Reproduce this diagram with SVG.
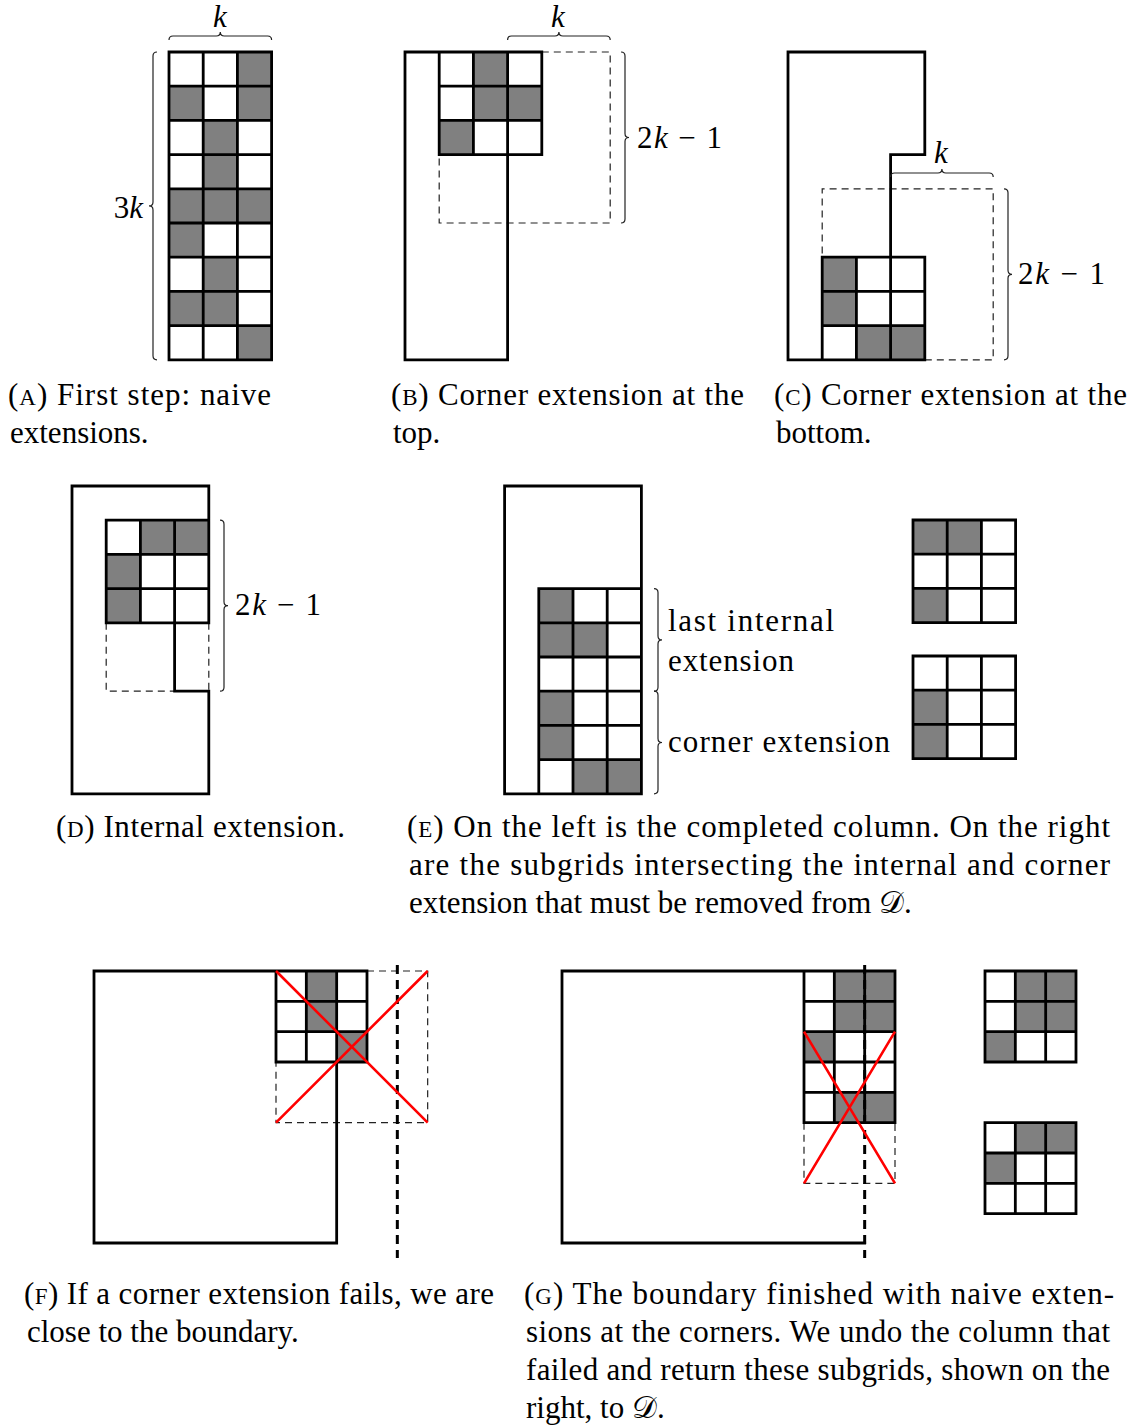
<svg xmlns="http://www.w3.org/2000/svg" xmlns:xlink="http://www.w3.org/1999/xlink" width="1135" height="1425" viewBox="0 0 1135 1425">
<style>
.ln{fill:none;stroke:#000;stroke-width:2.8;stroke-linecap:square;stroke-linejoin:miter}
.gr{fill:#808080;stroke:none}
.ds{fill:none;stroke:#222;stroke-width:1.2;stroke-dasharray:7,5}
.td{fill:none;stroke:#000;stroke-width:3;stroke-dasharray:9,6}
.rx{fill:none;stroke:#f00;stroke-width:2.6}
.br{fill:none;stroke:#222;stroke-width:1.2}
.cap{font-family:"Liberation Serif","DejaVu Serif",serif;font-size:31px;fill:#000}
.sc{font-size:23px}
.m{font-family:"Liberation Serif","DejaVu Serif",serif;font-size:31px;fill:#000}
.it{font-style:italic}
</style>
<defs>
<rect id="g" width="34.2" height="34.2" class="gr"/>
<rect id="s" width="30.33" height="30.33" class="gr"/>
</defs>
<rect width="1135" height="1425" fill="#fff"/>

<g id="panel-a">
<use xlink:href="#g" x="237.4" y="52"/>
<use xlink:href="#g" x="169" y="86.2"/><use xlink:href="#g" x="237.4" y="86.2"/>
<use xlink:href="#g" x="203.2" y="120.4"/>
<use xlink:href="#g" x="203.2" y="154.6"/>
<use xlink:href="#g" x="169" y="188.8"/><use xlink:href="#g" x="203.2" y="188.8"/><use xlink:href="#g" x="237.4" y="188.8"/>
<use xlink:href="#g" x="169" y="223"/>
<use xlink:href="#g" x="203.2" y="257.2"/>
<use xlink:href="#g" x="169" y="291.4"/><use xlink:href="#g" x="203.2" y="291.4"/>
<use xlink:href="#g" x="237.4" y="325.6"/>
<path class="ln" d="M169,52H271.6V359.8H169Z M203.2,52V359.8 M237.4,52V359.8 M169,86.2H271.6 M169,120.4H271.6 M169,154.6H271.6 M169,188.8H271.6 M169,223H271.6 M169,257.2H271.6 M169,291.4H271.6 M169,325.6H271.6"/>
<path class="br" d="M169,40Q169,36 173,36H216.3Q220.3,36 220.3,32Q220.3,36 224.3,36H267.6Q271.6,36 271.6,40"/>
<path class="br" d="M157,52Q153,52 153,56V201.9Q153,205.9 149,205.9Q153,205.9 153,209.9V355.8Q153,359.8 157,359.8"/>
<text class="m it" x="220" y="27" text-anchor="middle">k</text>
<text class="m" x="143" y="218" text-anchor="end">3<tspan class="it">k</tspan></text>
</g>

<g id="panel-b">
<use xlink:href="#g" x="473.4" y="52"/>
<use xlink:href="#g" x="473.4" y="86.2"/><use xlink:href="#g" x="507.6" y="86.2"/>
<use xlink:href="#g" x="439.2" y="120.4"/>
<path class="ds" d="M541.8,52H610.2V223H439.2V154.6"/>
<path class="ln" d="M405,52H507.6V359.8H405Z M439.2,52H541.8V154.6H439.2Z M473.4,52V154.6 M507.6,52V154.6 M439.2,86.2H541.8 M439.2,120.4H541.8"/>
<path class="br" d="M507.6,40Q507.6,36 511.6,36H554.9Q558.9,36 558.9,32Q558.9,36 562.9,36H606.2Q610.2,36 610.2,40"/>
<path class="br" d="M621,52Q625,52 625,56V133.5Q625,137.5 629,137.5Q625,137.5 625,141.5V219Q625,223 621,223"/>
<text class="m it" x="558" y="27" text-anchor="middle">k</text>
<text class="m" x="637" y="148" textLength="85">2<tspan class="it">k</tspan> − 1</text>
</g>

<g id="panel-c">
<use xlink:href="#g" x="822.2" y="257.2"/>
<use xlink:href="#g" x="822.2" y="291.4"/>
<use xlink:href="#g" x="856.4" y="325.6"/><use xlink:href="#g" x="890.6" y="325.6"/>
<path class="ds" d="M924.8,359.8H993.2V188.8H822.2V257.2"/>
<path class="ln" d="M890.6,257.2V154.6H924.8V52H788V359.8H924.8 M822.2,257.2H924.8V359.8 M822.2,257.2V359.8 M856.4,257.2V359.8 M890.6,257.2V359.8 M822.2,291.4H924.8 M822.2,325.6H924.8"/>
<path class="br" d="M890.6,177Q890.6,173 894.6,173H937.9Q941.9,173 941.9,169Q941.9,173 945.9,173H989.2Q993.2,173 993.2,177"/>
<path class="br" d="M1004,188.8Q1008,188.8 1008,192.8V270.3Q1008,274.3 1012,274.3Q1008,274.3 1008,278.3V355.8Q1008,359.8 1004,359.8"/>
<text class="m it" x="941" y="163" text-anchor="middle">k</text>
<text class="m" x="1018" y="284" textLength="87">2<tspan class="it">k</tspan> − 1</text>
</g>

<g id="panel-d">
<use xlink:href="#g" x="140.4" y="520.2"/><use xlink:href="#g" x="174.6" y="520.2"/>
<use xlink:href="#g" x="106.2" y="554.4"/>
<use xlink:href="#g" x="106.2" y="588.6"/>
<path class="ds" d="M106.2,622.8V691.2H174.6 M208.8,622.8V691.2"/>
<path class="ln" d="M208.8,520.2V486H72V793.8H208.8V691.2H174.6V622.8 M106.2,520.2H208.8V622.8H106.2Z M140.4,520.2V622.8 M174.6,520.2V622.8 M106.2,554.4H208.8 M106.2,588.6H208.8"/>
<path class="br" d="M220,520.2Q224,520.2 224,524.2V601.7Q224,605.7 228,605.7Q224,605.7 224,609.7V687.2Q224,691.2 220,691.2"/>
<text class="m" x="235" y="615" textLength="86">2<tspan class="it">k</tspan> − 1</text>
</g>

<g id="panel-e">
<use xlink:href="#g" x="538.8" y="588.6"/>
<use xlink:href="#g" x="538.8" y="622.8"/><use xlink:href="#g" x="573" y="622.8"/>
<use xlink:href="#g" x="538.8" y="691.2"/>
<use xlink:href="#g" x="538.8" y="725.4"/>
<use xlink:href="#g" x="573" y="759.6"/><use xlink:href="#g" x="607.2" y="759.6"/>
<path class="ln" d="M504.6,486H641.4V793.8H504.6Z M538.8,588.6H641.4 M538.8,588.6V793.8 M573,588.6V793.8 M607.2,588.6V793.8 M538.8,622.8H641.4 M538.8,657H641.4 M538.8,691.2H641.4 M538.8,725.4H641.4 M538.8,759.6H641.4"/>
<path class="br" d="M654,588.6Q658,588.6 658,592.6V635.9Q658,639.9 662,639.9Q658,639.9 658,643.9V687.2Q658,691.2 654,691.2"/>
<path class="br" d="M654,691.2Q658,691.2 658,695.2V738.5Q658,742.5 662,742.5Q658,742.5 658,746.5V789.8Q658,793.8 654,793.8"/>
<text class="cap" x="668" y="631" textLength="166">last internal</text>
<text class="cap" x="668" y="671" textLength="126">extension</text>
<text class="cap" x="668" y="752" textLength="222">corner extension</text>
</g>

<g id="subgrid-e1">
<use xlink:href="#g" x="913" y="520"/><use xlink:href="#g" x="947.2" y="520"/>
<use xlink:href="#g" x="913" y="588.4"/>
<path class="ln" d="M913,520H1015.6V622.6H913Z M947.2,520V622.6 M981.4,520V622.6 M913,554.2H1015.6 M913,588.4H1015.6"/>
</g>
<g id="subgrid-e2">
<use xlink:href="#g" x="913" y="690.2"/>
<use xlink:href="#g" x="913" y="724.4"/>
<path class="ln" d="M913,656H1015.6V758.6H913Z M947.2,656V758.6 M981.4,656V758.6 M913,690.2H1015.6 M913,724.4H1015.6"/>
</g>

<g id="panel-f">
<use xlink:href="#s" x="306.33" y="971"/>
<use xlink:href="#s" x="306.33" y="1001.33"/>
<use xlink:href="#s" x="336.67" y="1031.67"/>
<path class="ds" d="M367,971H427.67V1122.67H276V1062"/>
<path class="ln" d="M276,971H94V1243H336.67V1062 M276,971H367V1062H276Z M306.33,971V1062 M336.67,971V1062 M276,1001.33H367 M276,1031.67H367"/>
<path class="td" d="M397.33,965V1258"/>
<path class="rx" d="M276,971L427.67,1122.67M276,1122.67L427.67,971"/>
</g>

<g id="panel-g">
<use xlink:href="#s" x="834.33" y="971"/><use xlink:href="#s" x="864.67" y="971"/>
<use xlink:href="#s" x="834.33" y="1001.33"/><use xlink:href="#s" x="864.67" y="1001.33"/>
<use xlink:href="#s" x="804" y="1031.67"/>
<use xlink:href="#s" x="834.33" y="1092.33"/><use xlink:href="#s" x="864.67" y="1092.33"/>
<path class="ds" d="M804,1122.67V1183.33H895V1122.67"/>
<path class="ln" d="M804,971H562V1243H864.67 M804,971H895V1122.67H804Z M834.33,971V1122.67 M864.67,971V1122.67 M804,1001.33H895 M804,1031.67H895 M804,1062H895 M804,1092.33H895"/>
<path class="td" d="M864.67,965V1258"/>
<path class="rx" d="M804,1031.67L895,1183.33M895,1031.67L804,1183.33"/>
</g>

<g id="subgrid-g1">
<use xlink:href="#s" x="1015.33" y="971"/><use xlink:href="#s" x="1045.67" y="971"/>
<use xlink:href="#s" x="1015.33" y="1001.33"/><use xlink:href="#s" x="1045.67" y="1001.33"/>
<use xlink:href="#s" x="985" y="1031.67"/>
<path class="ln" d="M985,971H1076V1062H985Z M1015.33,971V1062 M1045.67,971V1062 M985,1001.33H1076 M985,1031.67H1076"/>
</g>
<g id="subgrid-g2">
<use xlink:href="#s" x="1015.33" y="1122.67"/><use xlink:href="#s" x="1045.67" y="1122.67"/>
<use xlink:href="#s" x="985" y="1153"/>
<path class="ln" d="M985,1122.67H1076V1213.67H985Z M1015.33,1122.67V1213.67 M1045.67,1122.67V1213.67 M985,1153H1076 M985,1183.33H1076"/>
</g>

<g id="captions">
<text class="cap" x="8" y="405" textLength="263">(<tspan class="sc">A</tspan>) First step: naive</text>
<text class="cap" x="10" y="443">extensions.</text>
<text class="cap" x="391" y="405" textLength="353">(<tspan class="sc">B</tspan>) Corner extension at the</text>
<text class="cap" x="393" y="443">top.</text>
<text class="cap" x="774" y="405" textLength="353">(<tspan class="sc">C</tspan>) Corner extension at the</text>
<text class="cap" x="776" y="443">bottom.</text>
<text class="cap" x="56" y="837" textLength="289">(<tspan class="sc">D</tspan>) Internal extension.</text>
<text class="cap" x="407" y="837" textLength="703">(<tspan class="sc">E</tspan>) On the left is the completed column. On the right</text>
<text class="cap" x="409" y="875" textLength="701">are the subgrids intersecting the internal and corner</text>
<text class="cap" x="409" y="913">extension that must be removed from 𝒟.</text>
<text class="cap" x="24" y="1304" textLength="470">(<tspan class="sc">F</tspan>) If a corner extension fails, we are</text>
<text class="cap" x="27" y="1342">close to the boundary.</text>
<text class="cap" x="524" y="1304" textLength="590">(<tspan class="sc">G</tspan>) The boundary finished with naive exten-</text>
<text class="cap" x="526" y="1342" textLength="584">sions at the corners. We undo the column that</text>
<text class="cap" x="526" y="1380" textLength="584">failed and return these subgrids, shown on the</text>
<text class="cap" x="526" y="1418">right, to 𝒟.</text>
</g>
</svg>
